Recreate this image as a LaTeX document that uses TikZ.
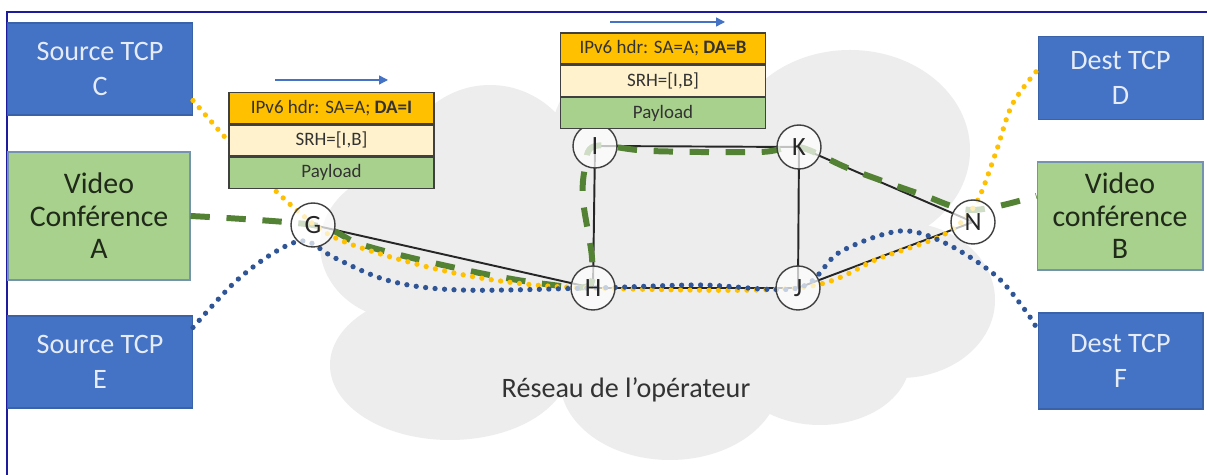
\documentclass[tikz,border=0pt]{standalone}
\usepackage{fontspec}
\setmainfont{Carlito}
\usetikzlibrary{arrows.meta,calc}
\definecolor{tcpblue}{HTML}{4472C4}
\definecolor{tcpborder}{HTML}{3A62A8}
\definecolor{tcptext}{HTML}{E6ECF7}
\definecolor{vidgreen}{HTML}{A9D18E}
\definecolor{vidborder}{HTML}{7393B0}
\definecolor{vidtext}{HTML}{1F2A18}
\definecolor{hdrorange}{HTML}{FFC000}
\definecolor{srhcream}{HTML}{FFF2CC}
\definecolor{paygreen}{HTML}{A9D18E}
\definecolor{pkttext}{HTML}{333333}
\definecolor{cloudgray}{HTML}{EDEDED}
\definecolor{pathgreen}{HTML}{548235}
\definecolor{pathyellow}{HTML}{FFC000}
\definecolor{pathblue}{HTML}{2F5597}
\definecolor{framenavy}{HTML}{1C1C9C}
\definecolor{edgegray}{HTML}{262626}
\definecolor{arrowblue}{HTML}{4472C4}
\begin{document}
\begin{tikzpicture}[x=0.02cm,y=-0.02cm,
  tcpbox/.style={draw=tcpborder, fill=tcpblue, text=tcptext, line width=0.6pt,
    align=center, inner sep=0pt, font=\fontsize{16}{19.5}\selectfont},
  vidbox/.style={draw=vidborder, fill=vidgreen, text=vidtext, line width=0.6pt,
    align=center, inner sep=0pt, font=\fontsize{17}{18.5}\selectfont},
  pktrow/.style={draw=black!75, line width=0.8pt, minimum width=4.1cm,
    minimum height=0.62cm, inner sep=0pt, text=pkttext,
    font=\fontsize{10.8}{12}\selectfont},
  router/.style={circle, draw=black!75, line width=0.8pt, fill=white,
    fill opacity=0.72, text opacity=1, minimum size=0.88cm, inner sep=0pt,
    font=\fontsize{15}{17}\selectfont, text=black!85},
  link/.style={draw=edgegray, line width=1.1pt},
  greenpath/.style={draw=pathgreen, line width=3.4pt, dash pattern=on 11pt off 9.5pt},
  yellowpath/.style={draw=pathyellow, line width=3pt, line cap=round, dash pattern=on 0pt off 5.4pt},
  bluepath/.style={draw=pathblue, line width=3pt, line cap=round, dash pattern=on 0pt off 5.4pt},
  pktarrow/.style={draw=arrowblue, line width=0.8pt, -{Triangle[length=5pt,width=5pt]}},
  cloudpart/.style={fill=cloudgray, draw=none}
]
\useasboundingbox (0,0) rectangle (1207,475);
\fill[white] (0,0) rectangle (1207,475);

% cloud
\fill[cloudgray] (405,245) ellipse [x radius=85, y radius=75];
\fill[cloudgray] (490,185) ellipse [x radius=95, y radius=100];
\fill[cloudgray] (450,365) ellipse [x radius=120, y radius=75];
\fill[cloudgray] (660,145) ellipse [x radius=110, y radius=105];
\fill[cloudgray] (850,150) ellipse [x radius=120, y radius=100];
\fill[cloudgray] (900,300) ellipse [x radius=95, y radius=78];
\fill[cloudgray] (670,380) ellipse [x radius=110, y radius=80];
\fill[cloudgray] (820,360) ellipse [x radius=90, y radius=65];
\fill[cloudgray] (660,280) ellipse [x radius=280, y radius=110];

% frame
\draw[framenavy, line width=1.2pt] (7,475) -- (7,12) -- (1207,12);

% end boxes
\node[tcpbox, minimum width=3.7cm, minimum height=1.84cm] (C) at (100,69) {Source TCP\\C};
\node[vidbox, minimum width=3.64cm, minimum height=2.56cm] (A) at (99,216) {Video\\Conférence\\A};
\node[tcpbox, minimum width=3.7cm, minimum height=1.84cm] (E) at (100,362) {Source TCP\\E};
\node[tcpbox, minimum width=3.3cm, minimum height=1.66cm] (D) at (1120.5,78) {Dest TCP\\D};
\node[vidbox, minimum width=3.32cm, minimum height=2.16cm] (B) at (1120,216) {Video\\conférence\\B};
\node[tcpbox, minimum width=3.3cm, minimum height=1.92cm] (F) at (1120.5,361) {Dest TCP\\F};

% router positions
\coordinate (Gp) at (313,225);
\coordinate (Hp) at (593,288);
\coordinate (Ip) at (595,146);
\coordinate (Kp) at (799,147);
\coordinate (Jp) at (798,288);
\coordinate (Np) at (973,222);

% links
\draw[link] (Gp) -- (Hp);
\draw[link] (Hp) -- (Ip);
\draw[link] (Ip) -- (Kp);
\draw[link] (Kp) -- (Jp);
\draw[link] (Hp) -- (Jp);
\draw[link] (Jp) -- (Np);
\draw[link] (Kp) -- (Np);

% flows
\draw[greenpath] plot[smooth, tension=0.55] coordinates {
  (A.east) (Gp) (357,243) (400,255) (447,266) (495,276) (545,284) (588,286) (592,258) (583,200) (585,168) (Ip)
  (650,151) (760,152) (Kp) (850,169) (920,194) (972,210) ([yshift=0.4cm]B.west)};
\draw[yellowpath] plot[smooth, tension=0.55] coordinates {
  ([yshift=0.3cm]C.south east) (250,165) (300,213) (340,240) (420,265) (500,281) (Hp)
  (Jp) (880,258) (945,234) (975,205) (995,155) (1012,105) ([yshift=0.16cm]D.west)};
\draw[bluepath] plot[smooth, tension=0.55] coordinates {
  ([yshift=-0.24cm]E.north east) (235,282) (275,252) (305,241) (335,258) (390,281) (460,290) (Hp)
  (700,285) (Jp) (840,252) (900,231) (945,243) (995,275) (1025,310) ([yshift=-0.34cm]F.north west)};

% routers
\node[router] (G) at (Gp) {G};
\node[router] (H) at (Hp) {H};
\node[router] (I) at (Ip) {I};
\node[router] (K) at (Kp) {K};
\node[router] (J) at (Jp) {J};
\node[router] (N) at (Np) {N};

% packet 1
\node[pktrow, fill=hdrorange] (p1a) at (331.5,108) {IPv6 hdr: SA=A;\ \textbf{DA=I}};
\node[pktrow, fill=srhcream, anchor=north] (p1b) at (p1a.south) {SRH=[I,B]};
\node[pktrow, fill=paygreen, anchor=north] (p1c) at (p1b.south) {Payload};
\coordinate (a1s) at (275,80);
\coordinate (a1e) at (388,80);
\draw[pktarrow] (a1s) -- (a1e);

% packet 2
\node[pktrow, fill=hdrorange] (p2a) at (663,48.5) {IPv6 hdr: SA=A;\ \textbf{DA=B}};
\node[pktrow, fill=srhcream, anchor=north] (p2b) at (p2a.south) {SRH=[I,B]};
\node[pktrow, fill=paygreen, anchor=north] (p2c) at (p2b.south) {Payload};
\coordinate (a2s) at (610,22);
\coordinate (a2e) at (725,22);
\draw[pktarrow] (a2s) -- (a2e);

% cloud label
\node[text=black!80, font=\fontsize{16}{19}\selectfont] (net) at (626,390) {Réseau de l’opérateur};
\end{tikzpicture}
\end{document}
